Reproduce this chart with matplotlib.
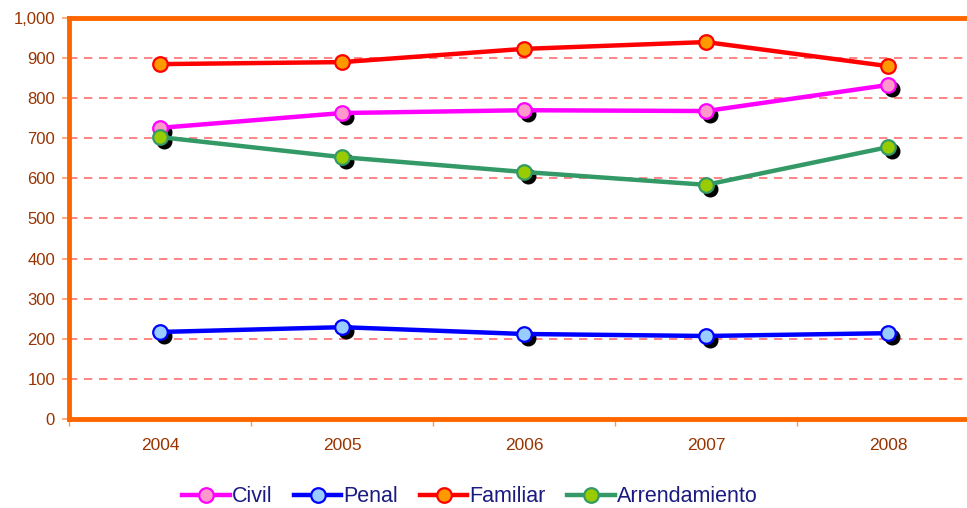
import matplotlib
matplotlib.use("Agg")
import matplotlib.pyplot as plt
import matplotlib.transforms as mtransforms
from matplotlib.ticker import FuncFormatter, FixedLocator

years = ["2004", "2005", "2006", "2007", "2008"]
civil = [726, 763, 770, 768, 833]
penal = [217, 229, 212, 207, 214]
familiar = [885, 890, 923, 940, 880]
arrendamiento = [703, 653, 616, 584, 678]

series = [
    ("Civil", civil, "#FF00FF", "#FF99CC", True),
    ("Penal", penal, "#0000FF", "#99CCFF", True),
    ("Familiar", familiar, "#FF0000", "#FF9900", False),
    ("Arrendamiento", arrendamiento, "#339966", "#99CC00", True),
]

plt.rcParams['font.family'] = ['Liberation Sans', 'DejaVu Sans']
fig = plt.figure(figsize=(9.67, 5.08), dpi=100)
ax = fig.add_axes([69/967, 1-419/508, (979-69)/967, (419-18)/508])

x = list(range(len(years)))
shadow = mtransforms.offset_copy(ax.transData, fig=fig, x=4, y=-4, units='dots')

handles = []
for name, vals, lc, fc, sh in series:
    if sh:
        ax.plot(x, vals, linestyle='none', marker='o', markersize=10.5,
                markerfacecolor='black', markeredgecolor='black',
                transform=shadow, zorder=3)
    h, = ax.plot(x, vals, color=lc, linewidth=3.2, marker='o', markersize=10.5,
                 markerfacecolor=fc, markeredgecolor=lc, markeredgewidth=1.6,
                 label=name, zorder=4)
    handles.append(h)

ax.set_xlim(-0.5, len(years) - 0.5)
ax.set_ylim(0, 1000)
ax.set_yticks(range(0, 1001, 100))
ax.yaxis.set_major_formatter(FuncFormatter(lambda v, p: f"{int(v):,}"))
ax.set_xticks(x)
ax.set_xticklabels(years)
ax.xaxis.set_minor_locator(FixedLocator([i - 0.5 for i in range(len(years) + 1)]))
ax.tick_params(axis='x', which='major', length=0, pad=14, labelsize=12.5, labelcolor='#993300')
ax.tick_params(axis='x', which='minor', length=5, width=1, color='#FF9933', direction='out')
ax.tick_params(axis='y', which='major', length=5, width=1.5, color='#FFB080', labelsize=12,
               labelcolor='#993300', pad=5)

for s in ['left', 'bottom', 'top']:
    ax.spines[s].set_color('#FF6600')
    ax.spines[s].set_linewidth(3.5)
ax.spines['right'].set_visible(False)

for v in range(100, 1000, 100):
    ax.axhline(v, color='#FF7070', linestyle=(0, (5, 4)), linewidth=1.2, zorder=1)

leg = fig.legend(handles=handles, loc='center', bbox_to_anchor=(470/967, 1-497/508),
                 ncol=4, frameon=False, fontsize=15.5, handlelength=2.2,
                 handletextpad=0.1, columnspacing=1.0)
for t in leg.get_texts():
    t.set_color('#1A1A80')

fig.savefig("out.png", dpi=100)
